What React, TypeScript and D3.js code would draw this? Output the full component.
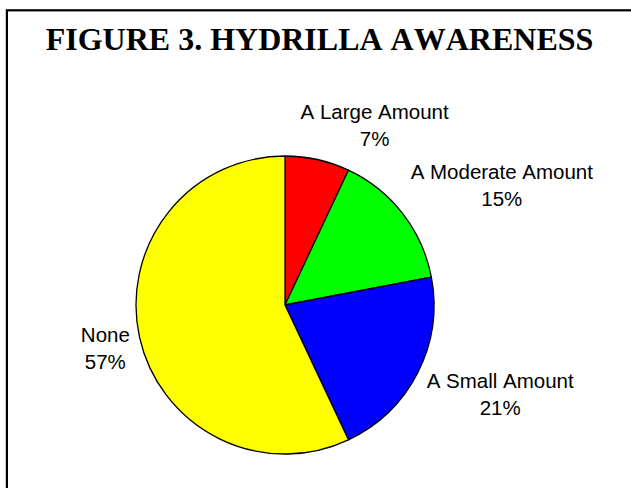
import React, { useRef, useEffect } from "react";
import * as d3 from "d3";

const categories = ["A Large Amount", "A Moderate Amount", "A Small Amount", "None"];
const shares = [7, 15, 21, 57];
const sliceColors = ["#FF0000", "#00FF00", "#0000FF", "#FFFF00"];

const width = 631;
const height = 488;

const App: React.FC = () => {
  const svgRef = useRef<SVGSVGElement | null>(null);

  useEffect(() => {
    if (!svgRef.current) return;
    const svg = d3.select(svgRef.current);
    svg.selectAll("*").remove();

    // frame that runs off the right and bottom edge
    svg
      .append("rect")
      .attr("x", 6.9)
      .attr("y", 10.3)
      .attr("width", 800)
      .attr("height", 700)
      .attr("fill", "none")
      .attr("stroke", "#000")
      .attr("stroke-width", 2.2);

    svg
      .append("text")
      .attr("x", 319.5)
      .attr("y", 50)
      .attr("text-anchor", "middle")
      .style("font-family", "'Liberation Serif', 'Times New Roman', serif")
      .style("font-weight", "bold")
      .style("font-size", "32px")
      .style("font-kerning", "none")
      .text("FIGURE 3. HYDRILLA AWARENESS");

    const cx = 285;
    const cy = 305;
    const radius = 149;

    const data = categories.map((label, i) => ({
      label,
      value: shares[i],
      color: sliceColors[i],
    }));

    const pie = d3
      .pie<{ label: string; value: number; color: string }>()
      .sort(null)
      .value((d) => d.value);

    const arc = d3
      .arc<d3.PieArcDatum<{ label: string; value: number; color: string }>>()
      .innerRadius(0)
      .outerRadius(radius);

    const g = svg.append("g").attr("transform", `translate(${cx}, ${cy})`);
    const arcs = pie(data);

    g.selectAll(".slice")
      .data(arcs)
      .enter()
      .append("path")
      .attr("class", "slice")
      .attr("d", (d) => arc(d)!)
      .attr("fill", (d) => d.data.color)
      .attr("stroke", "#000")
      .attr("stroke-width", 1.3)
      .attr("stroke-linejoin", "round");

    // labels: place the text box just outside the rim along the mid angle
    const labelR = radius + 10;
    const lineGap = 27;
    const clamp = (v: number) => Math.max(-1, Math.min(1, v));

    arcs.forEach((d) => {
      const mid = (d.startAngle + d.endAngle) / 2;
      const s = Math.sin(mid);
      const c = Math.cos(mid);
      const lbl = g
        .append("text")
        .attr("text-anchor", "middle")
        .style("font-family", "'Liberation Sans', Arial, sans-serif")
        .style("font-size", "20.5px")
        .style("font-kerning", "none")
        .attr("fill", "#000");
      lbl.append("tspan").attr("x", 0).attr("y", 0).text(d.data.label);
      lbl
        .append("tspan")
        .attr("x", 0)
        .attr("y", lineGap)
        .text(`${d.data.value}%`);

      const box = (lbl.node() as SVGTextElement).getBBox();
      const w = box.width;
      const h = box.height;
      const px = labelR * s + (w / 2) * clamp(3.4 * s);
      const py = -labelR * c - (h / 2) * clamp(1.5 * c);
      // shift so box centre lands on (px, py)
      const dx = px - (box.x + w / 2);
      const dy = py - (box.y + h / 2);
      lbl.attr("transform", `translate(${dx}, ${dy})`);
    });
  }, []);

  return (
    <svg
      ref={svgRef}
      width={width}
      height={height}
      style={{ position: "absolute", left: 0, top: 0, background: "#fff" }}
    ></svg>
  );
};

export default App;
